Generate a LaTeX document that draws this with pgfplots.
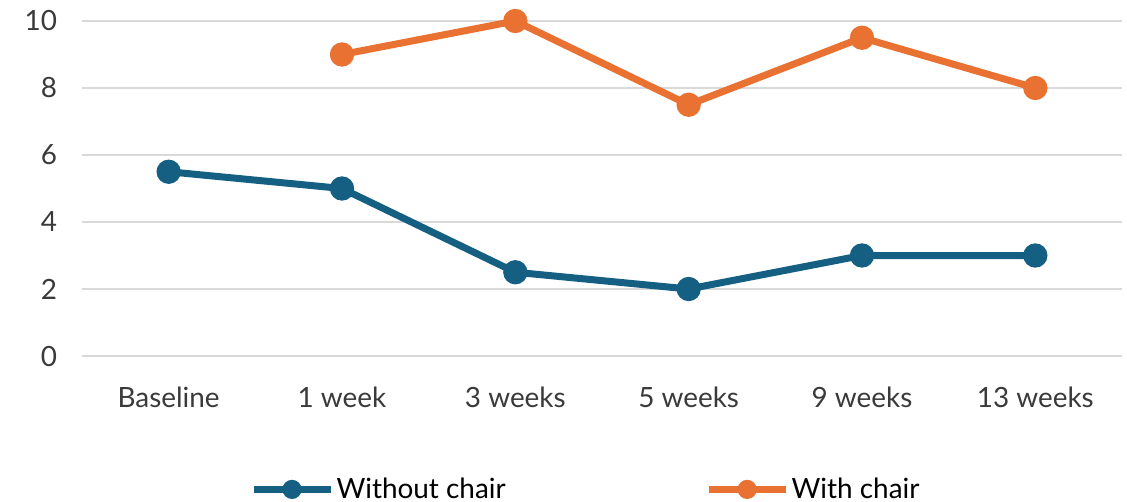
\documentclass[border=0pt]{standalone}
\usepackage{pgfplots}
\pgfplotsset{compat=1.18}
\usepackage{fontspec}
\setmainfont{Lato}
\definecolor{wo}{HTML}{156082}
\definecolor{wi}{HTML}{E97132}
\definecolor{gridc}{HTML}{D9D9D9}
\definecolor{txt}{HTML}{3A3A3A}
\begin{document}
\begin{tikzpicture}
\useasboundingbox (-41bp,-73bp) rectangle (522.5bp,178bp);
\begin{axis}[
    scale only axis,
    width=520bp, height=167.5bp,
    xmin=-0.5, xmax=5.5,
    ymin=0, ymax=10,
    ytick={0,2,4,6,8,10},
    xtick={0,1,2,3,4,5},
    xticklabels={Baseline,1 week,3 weeks,5 weeks,9 weeks,13 weeks},
    axis line style={draw=none},
    major tick length=0,
    ymajorgrids=true,
    grid style={gridc, line width=1bp},
    tick label style={font=\fontsize{14}{16}\selectfont, text=txt},
    /pgf/number format/assume math mode=true,
    yticklabel style={xshift=-9bp},
    xticklabel style={yshift=-12bp},
    legend style={at={(0.5,-0.35)}, xshift=-8bp, anchor=north, draw=none,
        fill=none, inner sep=0pt,
        legend columns=2, font=\fontsize{14}{16}\selectfont,
        nodes={inner xsep=1bp},
        /tikz/every even column/.append style={column sep=99bp}},
    legend image code/.code={
        \draw[#1] (0bp,0bp) -- (38.5bp,0bp);
        \fill[#1, draw=none] (19bp,0bp) circle (4.8bp);
    },
]
\addplot[wo, line width=3.5bp, mark=*, mark size=4.3bp, mark options={draw=none}]
coordinates {(0,5.5)(1,5)(2,2.5)(3,2)(4,3)(5,3)};
\addlegendentry{Without chair}
\addplot[wi, line width=3.5bp, mark=*, mark size=4.3bp, mark options={draw=none}]
coordinates {(1,9)(2,10)(3,7.5)(4,9.5)(5,8)};
\addlegendentry{With chair}
\end{axis}
\end{tikzpicture}
\end{document}
